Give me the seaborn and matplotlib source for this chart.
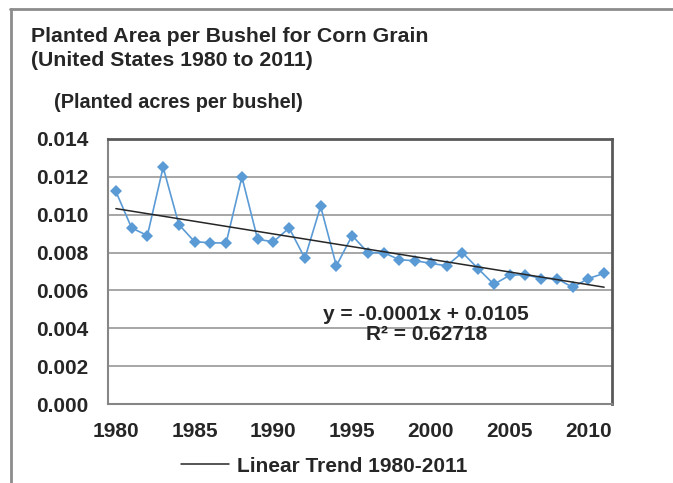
import matplotlib
matplotlib.use("Agg")
import matplotlib.pyplot as plt
from matplotlib.lines import Line2D
from matplotlib.ticker import MultipleLocator, FixedLocator
import seaborn as sns
import pandas as pd

# Planted acres per bushel.
years = list(range(1980, 2012))
acres_per_bushel = [
    0.01123, 0.00930, 0.00890, 0.01251, 0.00948, 0.00857, 0.00852, 0.00850,
    0.01200, 0.00870, 0.00857, 0.00930, 0.00770, 0.01044, 0.00730, 0.00890,
    0.00800, 0.00800, 0.00762, 0.00757, 0.00743, 0.00730, 0.00800, 0.00715,
    0.00632, 0.00680, 0.00684, 0.00663, 0.00663, 0.00616, 0.00663, 0.00690,
]
year_labels = [1980, 1985, 1990, 1995, 2000, 2005, 2010]
y_ticks = [0.000, 0.002, 0.004, 0.006, 0.008, 0.010, 0.012, 0.014]

df = pd.DataFrame({"year": years, "value": acres_per_bushel})

sns.set_style("white")
plt.rcParams["font.family"] = ["Liberation Sans", "DejaVu Sans"]
plt.rcParams["font.weight"] = "bold"

fs = 15

fig = plt.figure(figsize=(6.73, 4.83), dpi=100)
ax = fig.add_axes([108 / 673, 1 - 404 / 483, (612 - 108) / 673, (404 - 139) / 483])

# Data series and linear trend.
sns.lineplot(data=df, x="year", y="value", ax=ax, color="#5b9bd5", lw=1.2,
             marker="D", markersize=6, markeredgewidth=0, zorder=3)
sns.regplot(data=df, x="year", y="value", ax=ax, scatter=False, ci=None,
            line_kws={"color": "#262626", "lw": 1.1, "zorder": 4})

ax.set_xlim(1979.5, 2011.5)
ax.set_ylim(0, 0.014)
ax.set_yticks(y_ticks)
ax.set_yticklabels([f"{v:.3f}" for v in y_ticks])
ax.xaxis.set_major_locator(FixedLocator(year_labels))
ax.xaxis.set_minor_locator(MultipleLocator(1, offset=0.5))
ax.set_xticklabels([str(y) for y in year_labels])
ax.tick_params(axis="x", which="major", length=0, pad=13, labelsize=fs)
ax.tick_params(axis="x", which="minor", length=5, width=1, color="#868686")
ax.tick_params(axis="y", length=5, width=1, color="#868686", pad=9, labelsize=fs)
ax.set_xlabel("")
ax.set_ylabel("")

ax.grid(axis="y", color="#a6a6a6", lw=1.4)
ax.set_axisbelow(True)
for side in ["top", "right"]:
    ax.spines[side].set_color("#595959")
    ax.spines[side].set_linewidth(2)
for side in ["left", "bottom"]:
    ax.spines[side].set_color("#868686")
    ax.spines[side].set_linewidth(1.5)

# Trend equation labels.
ax.text(1999.7, 0.00475, "y = -0.0001x + 0.0105", ha="center", va="center",
        fontsize=fs, fontweight="bold")
ax.text(1999.7, 0.00368, "R\u00b2 = 0.62718", ha="center", va="center",
        fontsize=fs, fontweight="bold")

# Titles.
fig.text(31 / 673, 1 - 27 / 483, "Planted Area per Bushel for Corn Grain\n(United States 1980 to 2011)",
         ha="left", va="top", fontsize=15.3, fontweight="bold", linespacing=1.3)
fig.text(54 / 673, 1 - 103 / 483, "(Planted acres per bushel)", ha="left", va="center",
         fontsize=14.3, fontweight="bold")

fig.legend(handles=[Line2D([], [], color="#262626", lw=1.1)], labels=["Linear Trend 1980-2011"],
           loc="center", bbox_to_anchor=(324 / 673, 1 - 466 / 483), frameon=False,
           fontsize=fs, handlelength=2.3, handletextpad=0.4)

# Outer chart frame (cropped at right and bottom).
fig.add_artist(Line2D([10 / 673, 1], [1 - 9 / 483, 1 - 9 / 483], color="#8c8c8c", lw=2))
fig.add_artist(Line2D([11 / 673, 11 / 673], [0, 1 - 9 / 483], color="#8c8c8c", lw=2))

fig.savefig("out.png", dpi=100)
